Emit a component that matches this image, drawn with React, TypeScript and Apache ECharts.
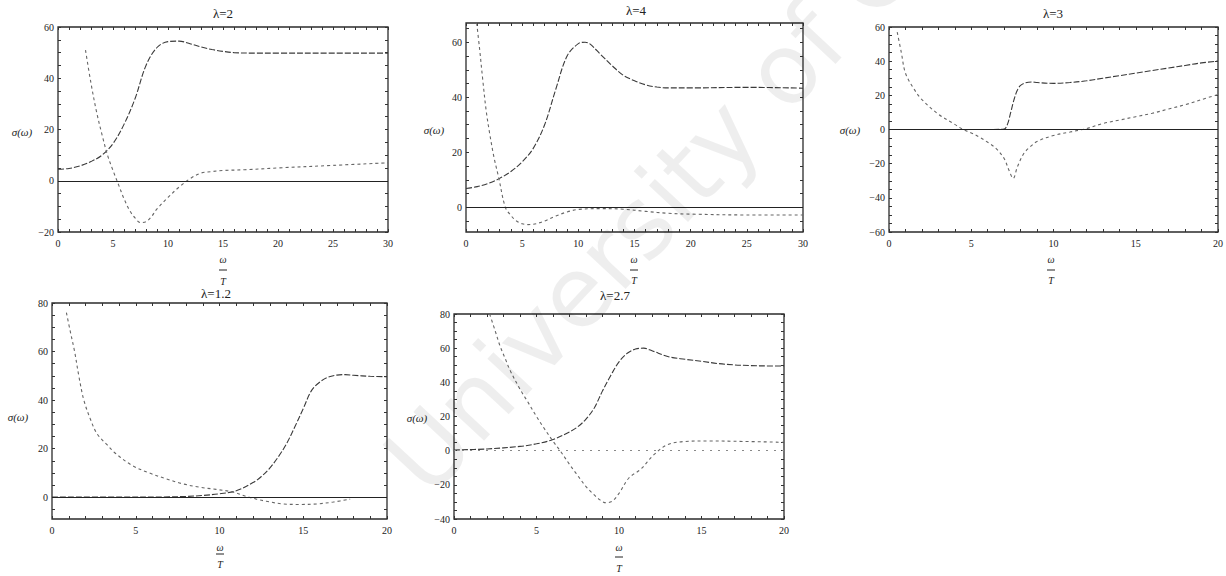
import React, { useEffect, useRef } from "react";
import * as echarts from "echarts";

const TITLES = ["λ=2", "λ=4", "λ=3", "λ=1.2", "λ=2.7"];
const Y_NAME = "σ(ω)";
const X_NUM = "ω";
const X_DEN = "T";
const WATERMARK = "University of Cape Town";

const X_TICKS_30 = [0, 5, 10, 15, 20, 25, 30];
const X_TICKS_20 = [0, 5, 10, 15, 20];
const Y_TICKS_P1 = [-20, 0, 20, 40, 60];
const Y_TICKS_P2 = [0, 20, 40, 60];
const Y_TICKS_P3 = [-60, -40, -20, 0, 20, 40, 60];
const Y_TICKS_P4 = [0, 20, 40, 60, 80];
const Y_TICKS_P5 = [-40, -20, 0, 20, 40, 60, 80];

// λ=2
const P1_A_X = [0, 1, 2, 3, 4, 5, 6, 7, 8, 9, 10, 11, 12, 13, 14, 15, 16, 18, 20, 25, 30];
const P1_A_Y = [4.5, 4.8, 5.8, 7.5, 10, 14.5, 22, 32, 45, 52, 54.3, 54.5, 53.5, 52.2, 51.2, 50.5, 50, 49.8, 49.8, 49.8, 49.8];
const P1_B_X = [2.5, 3, 3.5, 4, 4.5, 5, 5.5, 6, 6.5, 7, 7.5, 8, 8.5, 9, 10, 11, 12, 13, 14, 15, 17, 20, 25, 30];
const P1_B_Y = [51, 38, 27, 18, 10, 4, -1.5, -7, -11.5, -14.5, -16.3, -16, -14, -11, -6.5, -2.5, 0.8, 3, 3.6, 4, 4.3, 5, 6, 7];

// λ=4
const P2_A_X = [0, 1, 2, 3, 4, 5, 6, 7, 8, 9, 10, 10.6, 11, 12, 13, 14, 15, 16, 17, 18, 20, 25, 30];
const P2_A_Y = [6.8, 7.5, 8.7, 10.5, 13, 16.5, 21.5, 30, 43, 55, 59.5, 60, 59.5, 55.5, 51.5, 48, 46, 44.5, 43.7, 43.4, 43.4, 43.6, 43.3];
const P2_B_X = [0.95, 1.2, 1.5, 1.8, 2.1, 2.5, 2.9, 3.5, 4, 4.5, 5, 5.5, 6, 6.5, 7, 8, 9, 10, 12, 14, 16, 18, 20, 25, 30];
const P2_B_Y = [67, 58, 46, 35, 27, 18, 11, 0, -3, -5, -6, -6.3, -6.2, -5.7, -5, -3.2, -1.7, -0.8, -0.5, -0.7, -1.5, -2.2, -2.5, -2.8, -2.8];

// λ=3
const P3_A_X = [0, 4, 6, 7, 7.2, 7.4, 7.6, 7.8, 8, 8.3, 8.7, 9, 10, 11, 12, 13, 14, 15, 16, 17, 18, 19, 20];
const P3_A_Y = [0, 0, 0, 0.3, 3, 10, 17.5, 23, 25.8, 27.3, 27.8, 27.5, 27, 27.5, 28.5, 30, 31.5, 33, 34.5, 36, 37.5, 39, 40];
const P3_B_X = [0.5, 0.75, 1, 1.5, 2, 3, 4, 4.5, 5, 5.5, 6, 6.5, 7, 7.3, 7.55, 7.8, 8.2, 8.6, 9, 10, 11, 11.5, 12, 13, 14, 15, 16, 17, 18, 19, 20];
const P3_B_Y = [57, 45, 33, 24, 17.5, 9, 3, 0, -2, -4.5, -7.5, -11, -17, -24, -28.6, -22, -14, -10, -7, -3.5, -1.5, -0.5, 0.5, 3.5, 5.5, 7.5, 9.5, 12, 14.5, 17.5, 20.5];

// λ=1.2
const P4_A_X = [0, 4, 7, 8, 9, 10, 11, 12, 12.5, 13, 13.5, 14, 14.5, 15, 15.5, 16, 16.5, 17, 17.5, 18, 19, 20];
const P4_A_Y = [0, 0, 0.1, 0.3, 0.7, 1.4, 2.6, 6, 8.5, 12, 16.5, 22, 29, 36.5, 44, 47.5, 49.5, 50.3, 50.5, 50.2, 49.8, 49.6];
const P4_B_X = [0.86, 1.1, 1.35, 1.6, 1.9, 2.3, 2.7, 3.3, 3.8, 4.8, 5.8, 6.8, 7.8, 8.8, 9.8, 10.8, 11.6, 12.2, 12.8, 13.8, 14.8, 15.8, 16.8, 17.8];
const P4_B_Y = [76, 68, 60, 50, 40, 32, 26, 21.5, 18, 13, 10, 7.6, 5.5, 4.1, 3.2, 2.1, 0.3, -0.8, -1.7, -2.8, -3, -2.8, -2, -0.8];

// λ=2.7
const P5_A_X = [0, 2, 4, 5, 6, 7, 7.5, 8, 8.5, 9, 9.5, 10, 10.5, 11, 11.5, 12, 13, 14, 15, 16, 17, 18, 19, 20];
const P5_A_Y = [0.4, 1, 2.5, 4, 6.5, 11, 14, 18.5, 25, 35, 44, 52, 57, 59.5, 60, 58.5, 55, 53.5, 52.3, 51, 50.2, 49.8, 49.6, 49.6];
const P5_B_X = [2.16, 2.5, 2.8, 3.1, 3.4, 4, 4.4, 5, 5.4, 6, 6.4, 7, 7.4, 8, 8.4, 8.8, 9.2, 9.6, 10, 10.6, 11.3, 12.1, 12.9, 13.9, 15.5, 17, 20];
const P5_B_Y = [80, 70, 61, 54, 47, 36, 29.7, 20, 14, 5.5, 0.4, -8, -13.3, -21, -25, -28.5, -30.5, -29.5, -25, -16, -11, -2.5, 3.3, 5.3, 5.7, 5.5, 4.9];

const FONT = "'Liberation Serif', 'DejaVu Serif', serif";

type Panel = {
  title: string;
  box: [number, number, number, number];
  xr: [number, number];
  yr: [number, number];
  xt: number[];
  yt: number[];
  a: [number[], number[]];
  b: [number[], number[]];
  zeroDotted: boolean;
  titleXY: [number, number];
  sigXY: [number, number];
  frac: [number, number, number, number];
};

const PANELS: Panel[] = [
  { title: TITLES[0], box: [58, 27, 330, 205], xr: [0, 30], yr: [-20, 60], xt: X_TICKS_30, yt: Y_TICKS_P1, a: [P1_A_X, P1_A_Y], b: [P1_B_X, P1_B_Y], zeroDotted: false, titleXY: [223, 15], sigXY: [22, 132], frac: [223, 259, 270, 281] },
  { title: TITLES[1], box: [466, 23, 337, 209], xr: [0, 30], yr: [-9, 67], xt: X_TICKS_30, yt: Y_TICKS_P2, a: [P2_A_X, P2_A_Y], b: [P2_B_X, P2_B_Y], zeroDotted: false, titleXY: [636, 12], sigXY: [434, 130], frac: [634, 259, 270, 280] },
  { title: TITLES[2], box: [889, 27, 329, 205], xr: [0, 20], yr: [-60, 60], xt: X_TICKS_20, yt: Y_TICKS_P3, a: [P3_A_X, P3_A_Y], b: [P3_B_X, P3_B_Y], zeroDotted: false, titleXY: [1053, 15], sigXY: [850, 130], frac: [1051, 259, 270, 280] },
  { title: TITLES[3], box: [52, 303, 335, 216], xr: [0, 20], yr: [-9, 80], xt: X_TICKS_20, yt: Y_TICKS_P4, a: [P4_A_X, P4_A_Y], b: [P4_B_X, P4_B_Y], zeroDotted: false, titleXY: [216, 295], sigXY: [18, 417], frac: [220, 547, 554, 564] },
  { title: TITLES[4], box: [454, 314, 330, 205], xr: [0, 20], yr: [-40, 80], xt: X_TICKS_20, yt: Y_TICKS_P5, a: [P5_A_X, P5_A_Y], b: [P5_B_X, P5_B_Y], zeroDotted: true, titleXY: [615, 297], sigXY: [417, 418], frac: [619, 547, 557, 568] },
];

function minors(lo: number, hi: number, step: number): number[] {
  const out: number[] = [];
  for (let v = Math.ceil(lo / step) * step; v <= hi + 1e-9; v += step) out.push(+v.toFixed(6));
  return out;
}

function zip(xs: number[], ys: number[]) {
  return xs.map((x, i) => [x, ys[i]]);
}

const fmt = (v: number) => (v < 0 ? "−" + Math.abs(v) : String(v));

function buildOption() {
  const grid: any[] = [];
  const xAxis: any[] = [];
  const yAxis: any[] = [];
  const series: any[] = [];
  const title: any[] = [];
  const graphic: any[] = [];
  const tickColor = "#333";

  PANELS.forEach((p, i) => {
    const [l, t, w, h] = p.box;
    grid.push({ left: l, top: t, width: w, height: h, show: true, borderColor: "#2b2b2b", borderWidth: 1.3, backgroundColor: "transparent" });
    const xTicks = minors(p.xr[0], p.xr[1], 1);
    const yTicks = minors(p.yr[0], p.yr[1], 5);
    ["bottom", "top"].forEach((pos, k) => {
      xAxis.push({
        type: "value", gridIndex: i, position: pos, min: p.xr[0], max: p.xr[1],
        axisLine: { show: false, onZero: false },
        axisTick: { show: true, inside: true, length: 3, customValues: xTicks, lineStyle: { color: tickColor, width: 1 } },
        axisLabel: { show: k === 0, customValues: p.xt, formatter: fmt, fontFamily: FONT, fontSize: 10, color: "#222", margin: 6 },
        splitLine: { show: false },
      });
    });
    ["left", "right"].forEach((pos, k) => {
      yAxis.push({
        type: "value", gridIndex: i, position: pos, min: p.yr[0], max: p.yr[1],
        axisLine: { show: false, onZero: false },
        axisTick: { show: true, inside: true, length: 3, customValues: yTicks, lineStyle: { color: tickColor, width: 1 } },
        axisLabel: { show: k === 0, customValues: p.yt, formatter: fmt, fontFamily: FONT, fontSize: 10, color: "#222", margin: 4 },
        splitLine: { show: false },
      });
    });
    series.push({
      type: "line", xAxisIndex: 2 * i, yAxisIndex: 2 * i, data: zip(p.a[0], p.a[1]),
      showSymbol: false, smooth: 0.35, clip: true,
      lineStyle: { color: "#3a3a3a", width: 1.1, type: [6, 2] },
      markLine: {
        silent: true, symbol: ["none", "none"], label: { show: false },
        lineStyle: p.zeroDotted ? { color: "#888", type: [2, 6], width: 1 } : { color: "#222", type: "solid", width: 1 },
        data: [{ yAxis: 0 }],
      },
      z: 3,
    });
    series.push({
      type: "line", xAxisIndex: 2 * i, yAxisIndex: 2 * i, data: zip(p.b[0], p.b[1]),
      showSymbol: false, smooth: 0.35, clip: true,
      lineStyle: { color: "#666", width: 1.1, type: [3, 3] },
      z: 3,
    });
    title.push({
      text: p.title, left: p.titleXY[0], top: p.titleXY[1] - 8, textAlign: "center",
      textStyle: { fontFamily: FONT, fontSize: 13, fontWeight: "normal", color: "#222" },
      padding: 0,
    });
    graphic.push({
      type: "text", x: p.sigXY[0], y: p.sigXY[1],
      style: { text: Y_NAME, fontFamily: FONT, fontSize: 11, fontStyle: "italic", fill: "#222", align: "center", verticalAlign: "middle" },
    });
    const [cx, oy, by, ty] = p.frac;
    graphic.push({ type: "text", x: cx, y: oy, style: { text: X_NUM, fontFamily: FONT, fontSize: 10, fontStyle: "italic", fill: "#222", align: "center", verticalAlign: "middle" } });
    graphic.push({ type: "line", shape: { x1: cx - 4, y1: by, x2: cx + 4, y2: by }, style: { stroke: "#222", lineWidth: 1 } });
    graphic.push({ type: "text", x: cx, y: ty, style: { text: X_DEN, fontFamily: FONT, fontSize: 10, fontStyle: "italic", fill: "#222", align: "center", verticalAlign: "middle" } });
  });

  graphic.push({
    type: "text", x: 440, y: 510, rotation: 0.82, z: 100,
    style: { text: WATERMARK, fontFamily: "'DejaVu Sans', sans-serif", fontSize: 98, fill: "rgba(0,0,0,0.065)", align: "left", verticalAlign: "bottom" },
    silent: true,
  });

  return { animation: false, backgroundColor: "#fff", grid, xAxis, yAxis, series, title, graphic };
}

export default function App() {
  const ref = useRef<HTMLDivElement>(null);
  useEffect(() => {
    if (!ref.current) return;
    const chart = echarts.init(ref.current, undefined, { renderer: "svg" });
    chart.setOption(buildOption() as any);
    return () => chart.dispose();
  }, []);
  return <div ref={ref} style={{ position: "fixed", left: 0, top: 0, width: 1226, height: 576, background: "#fff" }} />;
}
